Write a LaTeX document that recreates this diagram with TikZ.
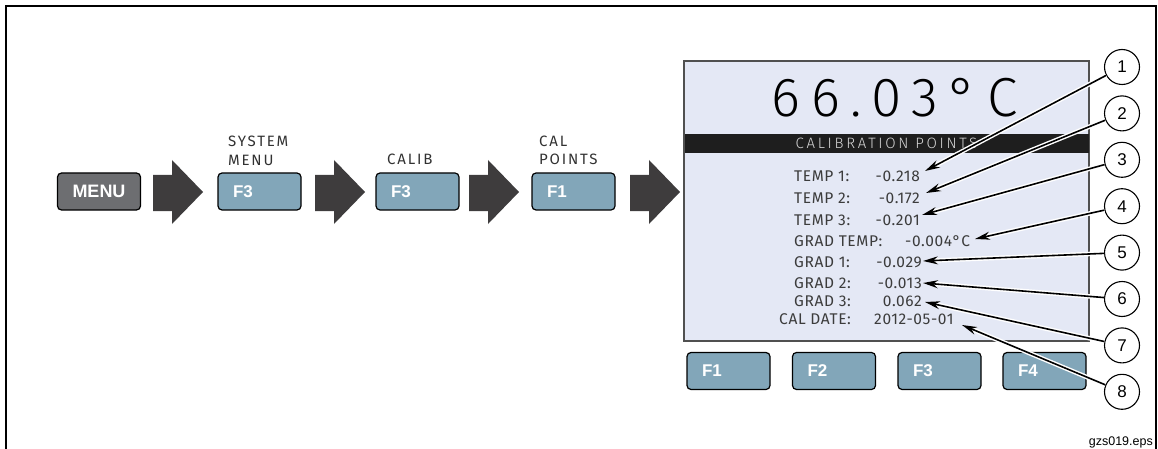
\documentclass[tikz,border=0pt]{standalone}
\usepackage{fontspec}
\setmainfont{Liberation Sans}
\newfontfamily\lcdfont{Fira Sans}
\newfontfamily\lcdthin{Fira Sans Light}
\usetikzlibrary{arrows.meta}
\definecolor{keyblue}{RGB}{130,166,185}
\definecolor{keygray}{RGB}{109,110,113}
\definecolor{arrowgray}{RGB}{62,60,61}
\definecolor{lcdbg}{RGB}{228,232,245}
\definecolor{lcdtext}{RGB}{60,60,60}
\definecolor{labelgray}{RGB}{50,50,50}
\definecolor{barblack}{RGB}{30,30,30}
\definecolor{bartext}{RGB}{215,215,215}
\definecolor{screenedge}{RGB}{80,80,80}

\begin{document}
\begin{tikzpicture}[x=1pt,y=-1pt,
    key/.style={draw=black, line width=1.2pt, rounded corners=4pt, fill=keyblue,
      minimum width=83pt, minimum height=37pt, inner xsep=15pt, text width=53pt,
      align=left, text=white, font=\bfseries\fontsize{17}{17}\selectfont},
    menukey/.style={key, fill=keygray, align=center, font=\bfseries\fontsize{18}{18}\selectfont},
    keyname/.style={font=\lcdfont\fontsize{15}{15}\selectfont\addfontfeatures{LetterSpace=12},
      text=labelgray, anchor=base west, inner sep=0pt},
    lcdline/.style={font=\lcdfont\fontsize{15.5}{15.5}\selectfont\addfontfeatures{LetterSpace=4},
      text=lcdtext, inner sep=0pt},
    callnum/.style={circle, draw=black, line width=1.1pt, fill=white, minimum size=35pt,
      inner sep=0pt, font=\fontsize{17}{17}\selectfont},
    callout/.style={line width=1.6pt, -{Stealth[length=15pt,width=8pt]},
      preaction={draw=white, line width=4.5pt}}]
  \useasboundingbox (0,0) rectangle (1158,449);

  % Frame, open at the bottom
  \draw[line width=2pt] (6,449) -- (6,6) -- (1156,6) -- (1156,449);

  % Key sequence
  \node[menukey] (menu) at (99,191.5) {MENU};
  \node[key] (sysf3) at (259.5,191.5) {F3};
  \node[key] (calibf3) at (417.5,191.5) {F3};
  \node[key] (calptf1) at (573.5,191.5) {F1};

  \node[keyname] (sys1) at (228,147) {SYSTEM};
  \node[keyname] (sys2) at (228,166) {MENU};
  \node[keyname] (calib) at (387,165) {CALIB};
  \node[keyname] (calpt1) at (539,147) {CAL};
  \node[keyname] (calpt2) at (539,165) {POINTS};

  % Block arrows between keys
  \foreach \ax in {153,315,469,630}
    \fill[arrowgray] (\ax,175) -- (\ax+19,175) -- (\ax+19,160) -- (\ax+50,192)
      -- (\ax+19,224) -- (\ax+19,211) -- (\ax,211) -- cycle;

  % Display
  \node[draw=screenedge, line width=1.3pt, fill=lcdbg, minimum width=405pt,
    minimum height=280pt, inner sep=0pt] (screen) at (886.5,201) {};
  \node[font=\lcdthin\fontsize{55}{55}\selectfont\addfontfeatures{LetterSpace=19},
    inner sep=0pt] (reading) at (895,98) {66.03°C};
  \node[fill=barblack, minimum width=404pt, minimum height=19pt, inner sep=0pt,
    text=bartext, font=\lcdthin\fontsize{15}{15}\selectfont\addfontfeatures{LetterSpace=18}]
    (titlebar) at (886.5,143.5) {CALIBRATION POINTS};

  % Calibration values
  \node[lcdline, anchor=base west] (t1lab) at (794,182) {TEMP 1:};
  \node[lcdline, anchor=base east] (t1val) at (920,182) {-0.218};
  \node[lcdline, anchor=base west] (t2lab) at (794,203) {TEMP 2:};
  \node[lcdline, anchor=base east] (t2val) at (920,203) {-0.172};
  \node[lcdline, anchor=base west] (t3lab) at (794,225) {TEMP 3:};
  \node[lcdline, anchor=base east] (t3val) at (920,225) {-0.201};
  \node[lcdline, anchor=base west] (gtlab) at (794,246) {GRAD TEMP:};
  \node[lcdline, anchor=base west] (gtval) at (905,246) {-0.004°C};
  \node[lcdline, anchor=base west] (g1lab) at (794,267) {GRAD 1:};
  \node[lcdline, anchor=base east] (g1val) at (922,267) {-0.029};
  \node[lcdline, anchor=base west] (g2lab) at (794,288) {GRAD 2:};
  \node[lcdline, anchor=base east] (g2val) at (922,288) {-0.013};
  \node[lcdline, anchor=base west] (g3lab) at (794,306) {GRAD 3:};
  \node[lcdline, anchor=base east] (g3val) at (922,306) {0.062};
  \node[lcdline, anchor=base west] (cdlab) at (779,324) {CAL DATE:};
  \node[lcdline, anchor=base west] (cdval) at (874,324) {2012-05-01};

  % Soft keys under the display
  \node[key] (soft1) at (728.5,371) {F1};
  \node[key] (soft2) at (834,371) {F2};
  \node[key] (soft3) at (939.5,371) {F3};
  \node[key] (soft4) at (1044.5,371) {F4};

  % Callout numbers and their arrows
  \foreach \i in {1,...,8}
    \node[callnum] (n\i) at (1122,{67+46.4*(\i-1)}) {\i};
  \coordinate (p1) at (925,171);
  \coordinate (p2) at (926,193);
  \coordinate (p3) at (922,215);
  \coordinate (p4) at (975,239);
  \coordinate (p5) at (923,261);
  \coordinate (p6) at (923,283);
  \coordinate (p7) at (925,302);
  \coordinate (p8) at (962,325);
  \foreach \i in {1,...,8}
    \draw[callout] (n\i) -- (p\i);

  \node[anchor=base east, inner sep=0pt, font=\fontsize{12.5}{12.5}\selectfont]
    (fileid) at (1153,445) {gzs019.eps};
\end{tikzpicture}
\end{document}
